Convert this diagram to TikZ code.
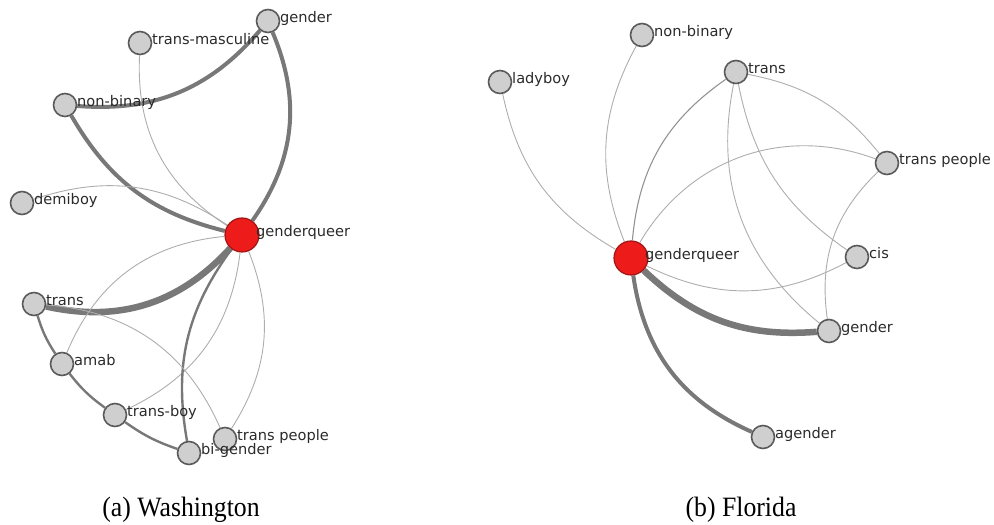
\documentclass[tikz,border=0pt]{standalone}
\usepackage{fontspec}
\setmainfont{Liberation Serif}
\newfontfamily\labfont{DejaVu Sans}
\usetikzlibrary{backgrounds}
\definecolor{nodegray}{HTML}{CFCFCF}
\definecolor{nodeedge}{HTML}{5A5A5A}
\definecolor{redfill}{HTML}{EE1B1B}
\definecolor{rededge}{HTML}{A01515}
\definecolor{thickc}{HTML}{787878}
\definecolor{thinc}{HTML}{ADADAD}
\definecolor{labcol}{HTML}{2A2A2A}
\tikzset{
  term/.style={circle, draw=nodeedge, fill=nodegray, line width=1.6pt, minimum size=23pt, inner sep=0pt},
  hub/.style={circle, draw=rededge, fill=redfill, line width=1.2pt, minimum size=34pt, inner sep=0pt},
  lab/.style={anchor=base west, inner sep=0pt, text=labcol, font=\labfont\fontsize{14.6}{16}\selectfont},
  e1/.style={draw=thinc, line width=0.9pt},
  e1d/.style={draw=thickc!80!white, line width=1.1pt},
  e2/.style={draw=thickc, line width=2.4pt},
  e3/.style={draw=thickc, line width=4pt},
  e4/.style={draw=thickc, line width=6.5pt},
  captext/.style={anchor=base, inner sep=0pt, xscale=0.92, font=\fontsize{28}{32}\selectfont}
}
\newcommand\termnode[4]{\node[term] (#1) at (#2,525-#3) {}; \node[lab] (#1l) at (#2+12,523.5-#3) {#4};}
\newcommand\hubnode[4]{\node[hub] (#1) at (#2,525-#3) {}; \node[lab] (#1l) at (#2+14,523-#3) {#4};}
\begin{document}
\begin{tikzpicture}[x=1pt,y=1pt]
\useasboundingbox (0,0) rectangle (994,525);
% ---- (a) Washington ----
\termnode{Lgender}{268}{21}{gender}
\termnode{Ltm}{140}{43}{trans-masculine}
\termnode{Lnb}{65}{105}{non-binary}
\termnode{Ldemi}{22}{203}{demiboy}
\hubnode{Lgq}{242}{235}{genderqueer}
\termnode{Ltrans}{34}{304}{trans}
\termnode{Lamab}{62}{364}{amab}
\termnode{Ltb}{115}{415}{trans-boy}
\termnode{Ltp}{225}{439}{trans people}
\termnode{Lbi}{189}{453}{bi-gender}
% ---- (b) Florida ----
\termnode{Rnb}{642}{35}{non-binary}
\termnode{Rlady}{500}{82}{ladyboy}
\termnode{Rtrans}{736}{72}{trans}
\termnode{Rtp}{887}{163}{trans people}
\termnode{Rcis}{857}{257}{cis}
\hubnode{Rgq}{631}{258}{genderqueer}
\termnode{Rgender}{829}{331}{gender}
\termnode{Ragender}{763}{437}{agender}
\begin{scope}[on background layer]
% left edges
\draw[e3] (Lnb) to[bend right=27] (Lgender);
\draw[e3] (Lgender) to[bend left=29] (Lgq);
\draw[e1] (Ltm) to[bend right=30] (Lgq);
\draw[e3] (Lnb) to[bend right=23] (Lgq);
\draw[e1] (Ldemi) to[bend left=26] (Lgq);
\draw[e4] (Ltrans) to[bend right=30] (Lgq);
\draw[e1] (Lamab) to[bend left=31] (Lgq);
\draw[e1] (Ltb) to[bend right=29] (Lgq);
\draw[e2] (Lbi) to[bend left=23] (Lgq);
\draw[e1] (Ltp) to[bend right=27] (Lgq);
\draw[e2] (Ltrans) to[bend right=8] (Lamab);
\draw[e2] (Lamab) to[bend right=8] (Ltb);
\draw[e2] (Ltb) to[bend right=8] (Lbi);
\draw[e1] (Ltrans) to[bend left=31] (Ltp);
% right edges
\draw[e1] (Rlady) to[bend right=24] (Rgq);
\draw[e1] (Rnb) to[bend right=25] (Rgq);
\draw[e1d] (Rtrans) to[bend right=25] (Rgq);
\draw[e1] (Rtp) to[bend right=40] (Rgq);
\draw[e1] (Rcis) to[bend left=27] (Rgq);
\draw[e4] (Rgq) to[bend right=24] (Rgender);
\draw[e3] (Rgq) to[bend right=29] (Ragender);
\draw[e1] (Rtrans) to[bend left=20] (Rtp);
\draw[e1] (Rtrans) to[bend right=22] (Rcis);
\draw[e1] (Rtrans) to[bend right=31] (Rgender);
\draw[e1] (Rtp) to[bend right=27] (Rgender);
\end{scope}
% captions
\node[captext] (capa) at (181,8) {(a) Washington};
\node[captext] (capb) at (741,8) {(b) Florida};
\end{tikzpicture}
\end{document}
